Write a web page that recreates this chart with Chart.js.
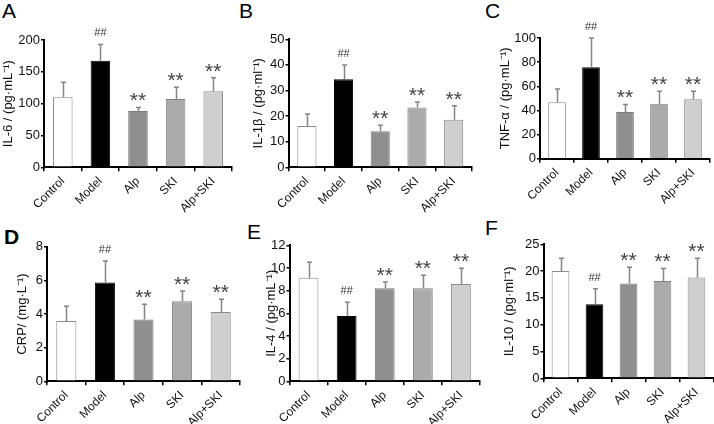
<!DOCTYPE html>
<html><head><meta charset="utf-8">
<script src="https://cdn.jsdelivr.net/npm/chart.js@4/dist/chart.umd.min.js"></script>
<style>
html,body{margin:0;padding:0;background:#fff;width:714px;height:424px;overflow:hidden;position:relative;}
canvas{position:absolute;left:0;top:0;}
.lbl{position:absolute;font-family:'Liberation Sans',Arial,sans-serif;font-size:21px;line-height:21px;color:#000;}
</style></head><body>
<div class="lbl" style="left:2px;top:0px">A</div>
<div class="lbl" style="left:239px;top:0px">B</div>
<div class="lbl" style="left:485px;top:0px">C</div>
<div class="lbl" style="left:4px;top:226px;font-weight:bold">D</div>
<div class="lbl" style="left:247px;top:221px">E</div>
<div class="lbl" style="left:485px;top:217px">F</div>
<canvas id="cA" width="714" height="500"></canvas>
<canvas id="cB" width="714" height="500"></canvas>
<canvas id="cC" width="714" height="500"></canvas>
<canvas id="cD" width="714" height="500"></canvas>
<canvas id="cE" width="714" height="500"></canvas>
<canvas id="cF" width="714" height="500"></canvas>
<script>
// ---------- data ----------
const categories = ['Control', 'Model', 'Alp', 'SKI', 'Alp+SKI'];
const marks = ['', '##', '**', '**', '**'];

const il6Mean  = [110, 167.5, 88.5, 107.3, 119.4];
const il6SD    = [23.5, 25.5, 5.5, 18.4, 21.4];
const il6Ticks = [0, 200, 50];

const il1bMean  = [16.1, 34.4, 14.1, 23.4, 18.6];
const il1bSD    = [4.7, 5.6, 2.3, 2.1, 5.4];
const il1bTicks = [0, 50, 10];

const tnfMean  = [46.7, 75.7, 38.7, 45.6, 49.2];
const tnfSD    = [11, 24.3, 6.3, 10.2, 6.6];
const tnfTicks = [0, 100, 20];

const crpMean  = [3.58, 5.87, 3.68, 4.76, 4.12];
const crpSD    = [0.88, 1.28, 0.9, 0.61, 0.75];
const crpTicks = [0, 8, 2];

const il4Mean  = [9.14, 5.76, 8.2, 8.2, 8.58];
const il4SD    = [1.36, 1.21, 0.56, 1.15, 1.39];
const il4Ticks = [0, 12, 2];

const il10Mean  = [20.0, 13.8, 17.7, 18.15, 18.8];
const il10SD    = [2.4, 2.9, 3.0, 2.35, 3.6];
const il10Ticks = [0, 25, 5];

// ---------- styles ----------
const FONT = "'Liberation Sans', Arial, sans-serif";
Chart.defaults.font.family = FONT;
const barFill = ['#ffffff', '#000000', '#8f8f8f', '#ababab', '#cfcfcf'];
const barEdge = ['#8a8a8a', '#000000', '#7a7a7a', '#808080', '#8a8a8a'];
const CH = 500;   // canvas height (only the top 424 px are visible)
const XH = 80;    // x-axis box height (room for rotated labels)
const TITLE_SIZE = 13;

const errPlugin = {
  id: 'err',
  afterDatasetsDraw(chart, args, opts) {
    const ctx = chart.ctx;
    const meta = chart.getDatasetMeta(0);
    const ys = chart.scales.y;
    const mean = chart.data.datasets[0].data;
    ctx.save();
    meta.data.forEach((bar, i) => {
      const x = Math.round(bar.x) + 0.5;
      const yt = ys.getPixelForValue(mean[i] + opts.sd[i]);
      const yb = ys.getPixelForValue(mean[i]);
      ctx.strokeStyle = '#858585';
      ctx.lineWidth = 1.5;
      ctx.beginPath();
      ctx.moveTo(x, yb); ctx.lineTo(x, yt);
      ctx.moveTo(x - 2.5, yt); ctx.lineTo(x + 2.5, yt);
      ctx.stroke();
      const m = opts.marks[i];
      if (m) {
        const cy = yt - 12;
        ctx.fillStyle = '#444';
        ctx.textAlign = 'center';
        ctx.textBaseline = 'alphabetic';
        if (m === '**') {
          const s = 21;
          ctx.font = s + 'px ' + FONT;
          ctx.fillText(m, bar.x, cy + 0.57 * s);
        } else {
          const s = 11;
          ctx.font = s + 'px ' + FONT;
          ctx.fillStyle = '#333';
          ctx.fillText(m, bar.x, cy + 0.35 * s);
        }
      }
    });
    ctx.restore();
  }
};

function makeChart(id, mean, sd, ticks, yTitle, box) {
  const padLeft = box.titleX - TITLE_SIZE * 0.6;
  return new Chart(document.getElementById(id), {
    type: 'bar',
    data: {
      labels: categories,
      datasets: [{
        data: mean,
        backgroundColor: barFill,
        borderColor: barEdge,
        borderWidth: 1,
        barPercentage: 0.52,
        categoryPercentage: 1
      }]
    },
    options: {
      responsive: false,
      animation: false,
      devicePixelRatio: 1,
      layout: { padding: { left: padLeft, top: box.top, right: 714 - box.right, bottom: CH - box.bottom - XH } },
      plugins: { legend: { display: false }, tooltip: { enabled: false }, err: { sd: sd, marks: marks } },
      scales: {
        x: {
          grid: { display: true, drawOnChartArea: false, drawTicks: true, tickLength: 4, color: '#000', lineWidth: 1.5, offset: true },
          border: { color: '#000', width: 2 },
          ticks: { minRotation: 45, maxRotation: 45, autoSkip: false, color: '#111', font: { size: 12 }, padding: 3 },
          afterFit(s) { s.height = XH; }
        },
        y: {
          min: ticks[0], max: ticks[1],
          ticks: { stepSize: ticks[2], color: '#111', font: { size: 13 }, padding: 1 },
          grid: { drawOnChartArea: false, drawTicks: true, tickLength: 3, color: '#000', lineWidth: 1.5 },
          border: { color: '#000', width: 2 },
          title: { display: true, text: yTitle, font: { size: TITLE_SIZE }, color: '#111', padding: 0 },
          afterFit(s) { s.width = box.left - padLeft; }
        }
      }
    },
    plugins: [errPlugin]
  });
}

makeChart('cA', il6Mean, il6SD, il6Ticks, 'IL-6 / (pg·mL⁻¹)', { left: 44, right: 232, top: 40, bottom: 167.3, titleX: 8 });
makeChart('cB', il1bMean, il1bSD, il1bTicks, 'IL-1β / (pg·ml⁻¹)', { left: 288.5, right: 472, top: 39.3, bottom: 167.3, titleX: 258 });
makeChart('cC', tnfMean, tnfSD, tnfTicks, 'TNF-α / (pg·mL⁻¹)', { left: 540, right: 710, top: 38, bottom: 158.7, titleX: 505 });
makeChart('cD', crpMean, crpSD, crpTicks, 'CRP/ (mg·L⁻¹)', { left: 47, right: 240, top: 246.7, bottom: 381.3, titleX: 22.5 });
makeChart('cE', il4Mean, il4SD, il4Ticks, 'IL-4 / (pg·mL⁻¹)', { left: 289.5, right: 480, top: 245.3, bottom: 381.3, titleX: 271 });
makeChart('cF', il10Mean, il10SD, il10Ticks, 'IL-10 / (pg·ml⁻¹)', { left: 543.5, right: 713.5, top: 244.3, bottom: 378.3, titleX: 509 });
</script>
</body></html>
